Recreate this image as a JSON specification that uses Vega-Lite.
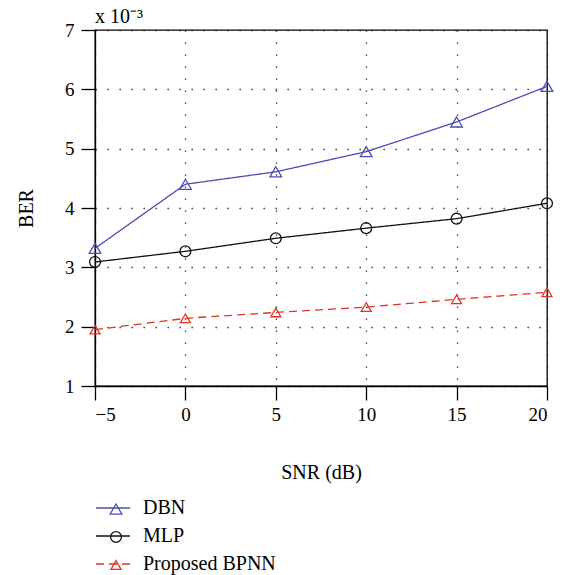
{
  "$schema": "https://vega.github.io/schema/vega-lite/v6.json",
  "width": 452,
  "height": 356,
  "autosize": "none",
  "padding": {"left": 95, "top": 30, "right": 20, "bottom": 189},
  "background": "white",
  "config": {
    "font": "Liberation Serif",
    "view": {"stroke": "black", "strokeWidth": 1.3},
    "axis": {
      "labelFont": "Liberation Serif",
      "titleFont": "Liberation Serif",
      "labelFontSize": 19,
      "titleFontSize": 20,
      "titleFontWeight": "normal",
      "labelColor": "black",
      "titleColor": "black",
      "domainColor": "black",
      "domainWidth": 1.3,
      "tickColor": "black",
      "tickWidth": 1.3,
      "tickSize": 14,
      "gridColor": "#222",
      "gridWidth": 1.3,
      "gridDash": [1.3, 10.7]
    },
    "legend": {
      "labelFont": "Liberation Serif",
      "labelFontSize": 20,
      "labelColor": "black"
    }
  },
  "title": {
    "text": "x 10⁻³",
    "anchor": "start",
    "frame": "group",
    "fontSize": 20,
    "fontWeight": "normal",
    "font": "Liberation Serif",
    "color": "black",
    "offset": -6
  },
  "data": {
    "values": [
      {"snr": -5, "ber": 3.32, "model": "DBN"},
      {"snr": 0, "ber": 4.40, "model": "DBN"},
      {"snr": 5, "ber": 4.61, "model": "DBN"},
      {"snr": 10, "ber": 4.95, "model": "DBN"},
      {"snr": 15, "ber": 5.45, "model": "DBN"},
      {"snr": 20, "ber": 6.05, "model": "DBN"},
      {"snr": -5, "ber": 3.09, "model": "MLP"},
      {"snr": 0, "ber": 3.27, "model": "MLP"},
      {"snr": 5, "ber": 3.49, "model": "MLP"},
      {"snr": 10, "ber": 3.66, "model": "MLP"},
      {"snr": 15, "ber": 3.82, "model": "MLP"},
      {"snr": 20, "ber": 4.08, "model": "MLP"},
      {"snr": -5, "ber": 1.95, "model": "Proposed BPNN"},
      {"snr": 0, "ber": 2.14, "model": "Proposed BPNN"},
      {"snr": 5, "ber": 2.24, "model": "Proposed BPNN"},
      {"snr": 10, "ber": 2.33, "model": "Proposed BPNN"},
      {"snr": 15, "ber": 2.46, "model": "Proposed BPNN"},
      {"snr": 20, "ber": 2.58, "model": "Proposed BPNN"}
    ]
  },
  "encoding": {
    "x": {
      "field": "snr",
      "type": "quantitative",
      "scale": {"domain": [-5, 20], "nice": false, "zero": false},
      "axis": {
        "values": [-5, 0, 5, 10, 15, 20],
        "title": "SNR (dB)",
        "labelPadding": 5,
        "titlePadding": 38
      }
    },
    "y": {
      "field": "ber",
      "type": "quantitative",
      "scale": {"domain": [1, 7], "nice": false, "zero": false},
      "axis": {
        "values": [1, 2, 3, 4, 5, 6, 7],
        "title": "BER",
        "labelPadding": 7,
        "titlePadding": 28
      }
    }
  },
  "layer": [
    {
      "mark": {"type": "line", "strokeWidth": 1.3},
      "encoding": {
        "color": {
          "field": "model",
          "type": "nominal",
          "scale": {"domain": ["DBN", "MLP", "Proposed BPNN"], "range": ["#4a4eb2", "#111111", "#e2332a"]},
          "legend": {
            "title": null,
            "orient": "none",
            "legendX": 0,
            "legendY": 460,
            "symbolType": "stroke",
            "symbolSize": 1156,
            "symbolStrokeWidth": 1.3,
            "labelOffset": 12,
            "rowPadding": 0,
            "padding": 0
          }
        },
        "strokeDash": {
          "field": "model",
          "type": "nominal",
          "scale": {"domain": ["DBN", "MLP", "Proposed BPNN"], "range": [[1, 0], [1, 0], [8, 5]]}
        }
      }
    },
    {
      "mark": {"type": "point", "filled": false, "strokeWidth": 1.3, "opacity": 1},
      "encoding": {
        "color": {
          "field": "model",
          "type": "nominal",
          "scale": {"domain": ["DBN", "MLP", "Proposed BPNN"], "range": ["#4a4eb2", "#111111", "#e2332a"]},
          "legend": {
            "title": null,
            "orient": "none",
            "legendX": 11,
            "legendY": 469,
            "symbolStrokeWidth": 1.3,
            "symbolFillColor": "white",
            "labelColor": "transparent",
            "rowPadding": 8,
            "padding": 0
          }
        },
        "shape": {
          "field": "model",
          "type": "nominal",
          "scale": {"domain": ["DBN", "MLP", "Proposed BPNN"], "range": ["triangle-up", "circle", "triangle-up"]}
        },
        "size": {
          "field": "model",
          "type": "nominal",
          "scale": {"domain": ["DBN", "MLP", "Proposed BPNN"], "range": [135, 100, 135]}
        }
      }
    }
  ],
  "resolve": {
    "scale": {
      "color": "independent",
      "shape": "independent",
      "strokeDash": "independent",
      "size": "independent"
    }
  }
}
